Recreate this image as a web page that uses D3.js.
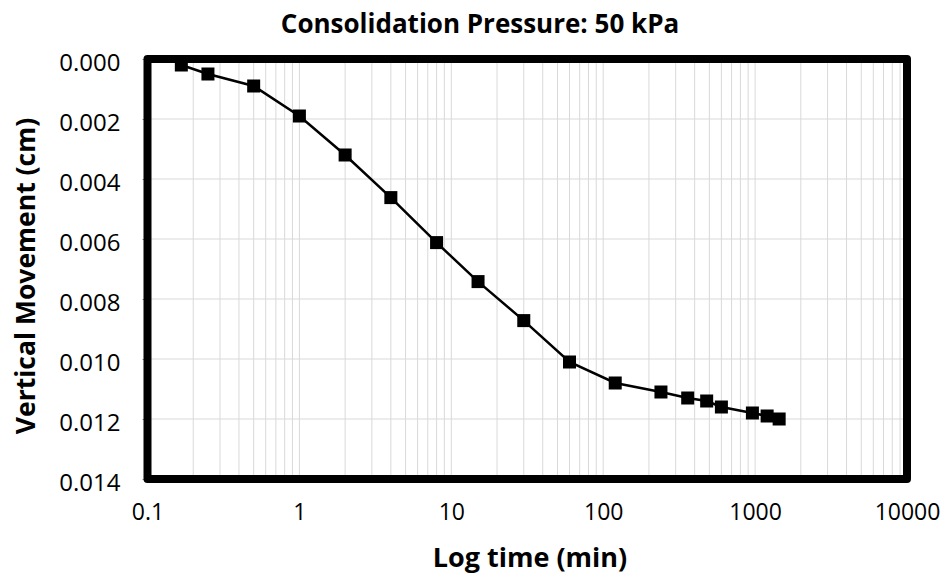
<!DOCTYPE html>
<html>
<head>
<meta charset="utf-8">
<script src="https://cdn.jsdelivr.net/npm/d3@7"></script>
<style>
  body { margin: 0; background: #fff; }
  text { font-family: "Open Sans", Lato, sans-serif; fill: #000; }
</style>
</head>
<body>
<div id="chart"></div>
<script>
// data
const timeMin = [0.167, 0.25, 0.5, 1, 2, 4, 8, 15, 30, 60, 120, 240, 360, 480, 600, 960, 1200, 1440];
const movementCm = [0.0002, 0.0005, 0.0009, 0.0019, 0.0032, 0.00462, 0.00612, 0.00742, 0.00872, 0.0101,
  0.0108, 0.0111, 0.0113, 0.0114, 0.0116, 0.0118, 0.0119, 0.0120];
const xTicks = [0.1, 1, 10, 100, 1000, 10000];
const yTicks = [0, 0.002, 0.004, 0.006, 0.008, 0.010, 0.012, 0.014];

const MARGIN = { LEFT: 147.5, RIGHT: 42, TOP: 59, BOTTOM: 100 };
const W = 949, H = 579;
const WIDTH = W - MARGIN.LEFT - MARGIN.RIGHT;
const HEIGHT = H - MARGIN.TOP - MARGIN.BOTTOM;
const FONT = "'Open Sans', sans-serif";

const svg = d3.select("#chart").append("svg")
  .attr("width", W)
  .attr("height", H);

const g = svg.append("g")
  .attr("transform", `translate(${MARGIN.LEFT}, ${MARGIN.TOP})`);

const x = d3.scaleLog().domain([0.1, 10000]).range([0, WIDTH]);
const y = d3.scaleLinear().domain([0, 0.014]).range([0, HEIGHT]);

// vertical gridlines (major + minor)
const minor = [];
for (let e = -1; e < 4; e++) {
  for (let k = 1; k <= 9; k++) minor.push(k * Math.pow(10, e));
}
g.append("g").selectAll("line").data(minor).join("line")
  .attr("x1", d => x(d)).attr("x2", d => x(d))
  .attr("y1", 0).attr("y2", HEIGHT)
  .attr("stroke", "#d9d9d9").attr("stroke-width", 1);

// horizontal gridlines
g.append("g").selectAll("line").data(yTicks).join("line")
  .attr("x1", 0).attr("x2", WIDTH)
  .attr("y1", d => y(d)).attr("y2", d => y(d))
  .attr("stroke", "#d9d9d9").attr("stroke-width", 1);

// y axis
const yAxis = g.append("g")
  .call(d3.axisLeft(y).tickValues(yTicks).tickFormat(d3.format(".3f")).tickSize(5).tickPadding(22));
yAxis.select(".domain").remove();
yAxis.selectAll("line").attr("stroke", "#888");
yAxis.selectAll("text").attr("font-size", "24px").attr("dy", "0.48em").style("font-family", FONT);

// x axis
const xAxis = g.append("g")
  .attr("transform", `translate(0, ${HEIGHT})`)
  .call(d3.axisBottom(x).tickValues(xTicks).tickFormat(d => String(d)).tickSize(0).tickPadding(25));
xAxis.select(".domain").remove();
xAxis.selectAll("text").attr("font-size", "23px").style("font-family", FONT);

// frame
g.append("rect")
  .attr("x", 0).attr("y", 0)
  .attr("width", WIDTH).attr("height", HEIGHT)
  .attr("fill", "none").attr("stroke", "#000")
  .attr("stroke-width", 8).attr("stroke-linejoin", "round");

// series
const pts = timeMin.map((t, i) => ({ t, v: movementCm[i] }));
const line = d3.line().x(d => x(d.t)).y(d => y(d.v));
g.append("path").datum(pts)
  .attr("d", line)
  .attr("fill", "none").attr("stroke", "#000").attr("stroke-width", 2.5);

const S = 13;
g.selectAll(".pt").data(pts).join("rect")
  .attr("class", "pt")
  .attr("x", d => x(d.t) - S / 2).attr("y", d => y(d.v) - S / 2)
  .attr("width", S).attr("height", S)
  .attr("fill", "#000");

// title
svg.append("text")
  .attr("x", 480).attr("y", 33)
  .attr("text-anchor", "middle")
  .attr("font-size", "26px").attr("font-weight", "bold")
  .text("Consolidation Pressure: 50 kPa");

// x label
svg.append("text")
  .attr("x", 530).attr("y", 567)
  .attr("text-anchor", "middle")
  .attr("font-size", "27px").attr("font-weight", "bold")
  .text("Log time (min)");

// y label
svg.append("text")
  .attr("transform", `translate(35, ${MARGIN.TOP + HEIGHT / 2 + 7}) rotate(-90)`)
  .attr("text-anchor", "middle")
  .attr("font-size", "26.5px").attr("font-weight", "bold")
  .text("Vertical Movement (cm)");
</script>
</body>
</html>
